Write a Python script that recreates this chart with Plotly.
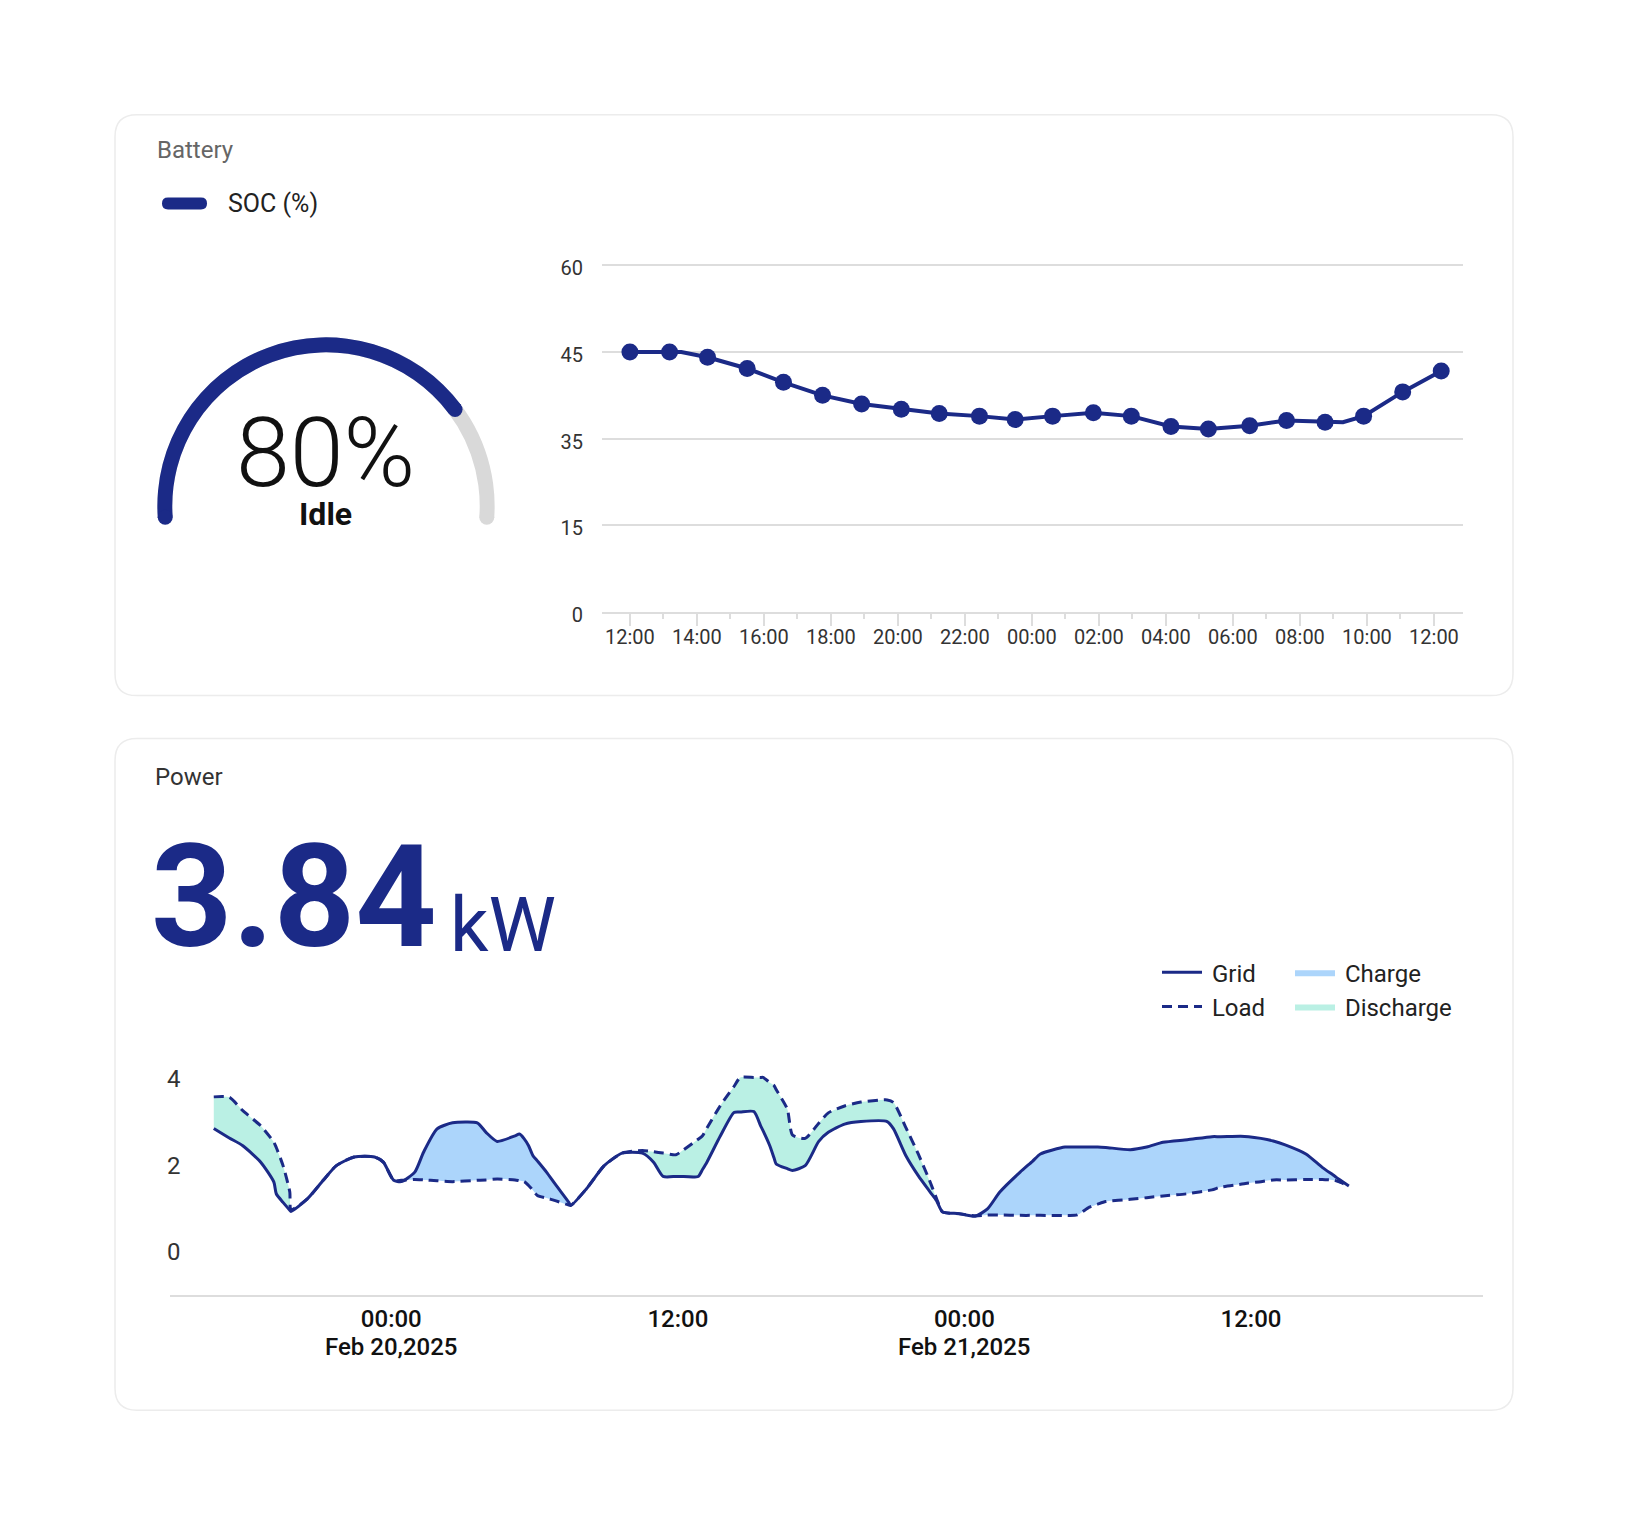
import numpy as np
import plotly.graph_objects as go

# layout is planned on a 1626x1520 grid; the page is photographed 12px taller
# and squeezed back, so the figure is made 1532 tall with fractional positions
W, H = 1626, 1520
FIG_H = 1532
NAVY = "#1b2a87"
TRACK = "#d9d9d9"
CHARGE = "#acd5fb"
DISCHARGE = "#baf0e4"
RULE = "#dddddd"
FONT = "Roboto, 'Noto Sans', sans-serif"

# ---------------- battery card data ----------------
soc_now = 80
soc_state = "Idle"
soc_ticks = [0, 15, 35, 45, 60]

soc_times = [
    "2025-02-20 12:00", "2025-02-20 13:11", "2025-02-20 14:19", "2025-02-20 15:30",
    "2025-02-20 16:35", "2025-02-20 17:45", "2025-02-20 18:55", "2025-02-20 20:06",
    "2025-02-20 21:14", "2025-02-20 22:26", "2025-02-20 23:30", "2025-02-21 00:37",
    "2025-02-21 01:50", "2025-02-21 02:58", "2025-02-21 04:09", "2025-02-21 05:16",
    "2025-02-21 06:30", "2025-02-21 07:36", "2025-02-21 08:45", "2025-02-21 09:54",
    "2025-02-21 11:04", "2025-02-21 12:13",
]
soc_values = [
    45.0, 45.0, 44.4, 43.1, 41.5, 40.0, 39.0, 38.4, 37.9, 37.6, 37.2,
    37.6, 38.0, 37.6, 36.4, 36.1, 36.5, 37.1, 36.9, 37.6, 40.4, 42.8,
]
# extra bends of the line between markers
soc_knot_times = ["2025-02-20 13:32", "2025-02-21 09:17"]
soc_knot_values = [45.0, 36.9]

# ---------------- power card data ----------------
power_now = 3.84
power_ticks = [0, 2, 4]
power_times = [
    "2025-02-19 16:34", "2025-02-19 17:13", "2025-02-19 17:47", "2025-02-19 18:32",
    "2025-02-19 19:05", "2025-02-19 19:11", "2025-02-19 19:28", "2025-02-19 19:45",
    "2025-02-19 19:48", "2025-02-19 20:29", "2025-02-19 21:09", "2025-02-19 21:42",
    "2025-02-19 22:27", "2025-02-19 23:18", "2025-02-19 23:40", "2025-02-20 00:06",
    "2025-02-20 00:25", "2025-02-20 00:59", "2025-02-20 01:21", "2025-02-20 01:55",
    "2025-02-20 02:34", "2025-02-20 03:36", "2025-02-20 03:58", "2025-02-20 04:26",
    "2025-02-20 05:11", "2025-02-20 05:22", "2025-02-20 05:34", "2025-02-20 05:45",
    "2025-02-20 05:56", "2025-02-20 06:07", "2025-02-20 06:30", "2025-02-20 06:52",
    "2025-02-20 07:26", "2025-02-20 07:31", "2025-02-20 08:10", "2025-02-20 08:55",
    "2025-02-20 09:40", "2025-02-20 10:31", "2025-02-20 10:59", "2025-02-20 11:23",
    "2025-02-20 11:55", "2025-02-20 12:06", "2025-02-20 12:51", "2025-02-20 13:02",
    "2025-02-20 13:13", "2025-02-20 13:47", "2025-02-20 14:21", "2025-02-20 14:37",
    "2025-02-20 15:11", "2025-02-20 15:28", "2025-02-20 15:34", "2025-02-20 15:51",
    "2025-02-20 16:02", "2025-02-20 16:07", "2025-02-20 16:35", "2025-02-20 16:48",
    "2025-02-20 17:20", "2025-02-20 17:54", "2025-02-20 18:18", "2025-02-20 18:59",
    "2025-02-20 19:40", "2025-02-20 20:46", "2025-02-20 21:02", "2025-02-20 21:33",
    "2025-02-20 22:04", "2025-02-20 22:34", "2025-02-20 22:50", "2025-02-20 23:05",
    "2025-02-20 23:46", "2025-02-21 00:27", "2025-02-21 00:58", "2025-02-21 01:29",
    "2025-02-21 02:20", "2025-02-21 02:51", "2025-02-21 03:11", "2025-02-21 04:13",
    "2025-02-21 04:43", "2025-02-21 05:14", "2025-02-21 05:35", "2025-02-21 05:55",
    "2025-02-21 06:57", "2025-02-21 07:38", "2025-02-21 08:19", "2025-02-21 09:20",
    "2025-02-21 10:22", "2025-02-21 10:42", "2025-02-21 11:34", "2025-02-21 11:54",
    "2025-02-21 12:25", "2025-02-21 12:56", "2025-02-21 13:26", "2025-02-21 14:18",
    "2025-02-21 14:59", "2025-02-21 15:30", "2025-02-21 15:40", "2025-02-21 16:06",
]
grid_kw = [
    2.85, 2.63, 2.45, 2.07, 1.61, 1.34, 1.14, 0.96, 0.93, 1.22, 1.65, 1.99,
    2.19, 2.19, 2.07, 1.65, 1.62, 1.84, 2.30, 2.84, 2.98, 2.98, 2.76, 2.55,
    2.68, 2.72, 2.61, 2.45, 2.22, 2.10, 1.84, 1.56, 1.14, 1.07, 1.45, 1.99,
    2.28, 2.28, 2.07, 1.74, 1.74, 1.74, 1.74, 1.90, 2.07, 2.68, 3.22, 3.23,
    3.24, 2.91, 2.80, 2.45, 2.16, 2.03, 1.92, 1.88, 1.99, 2.55, 2.76, 2.95,
    3.01, 3.01, 2.84, 2.22, 1.76, 1.38, 1.18, 0.92, 0.88, 0.82, 0.99, 1.38,
    1.84, 2.09, 2.26, 2.42, 2.42, 2.42, 2.42, 2.41, 2.36, 2.42, 2.53, 2.59,
    2.66, 2.66, 2.67, 2.66, 2.62, 2.56, 2.47, 2.26, 1.95, 1.75, 1.68, 1.52,
]
load_kw = [
    3.58, 3.57, 3.26, 2.91, 2.53, 2.41, 1.99, 1.38, 0.97, 1.22, 1.65, 1.99,
    2.19, 2.19, 2.07, 1.65, 1.65, 1.67, 1.66, 1.64, 1.62, 1.65, 1.66, 1.68,
    1.66, 1.64, 1.62, 1.53, 1.42, 1.30, 1.24, 1.18, 1.08, 1.07, 1.45, 1.99,
    2.28, 2.34, 2.31, 2.28, 2.24, 2.30, 2.60, 2.68, 2.86, 3.38, 3.82, 4.03,
    4.03, 4.03, 4.03, 3.91, 3.84, 3.75, 3.30, 2.70, 2.62, 2.97, 3.21, 3.37,
    3.46, 3.51, 3.45, 2.87, 2.26, 1.61, 1.23, 0.92, 0.88, 0.83, 0.85, 0.85,
    0.84, 0.84, 0.84, 0.84, 0.85, 1.03, 1.10, 1.16, 1.21, 1.25, 1.29, 1.34,
    1.43, 1.49, 1.56, 1.59, 1.62, 1.66, 1.66, 1.67, 1.67, 1.65, 1.62, 1.52,
]
day_ticks = ["2025-02-20 00:00", "2025-02-20 12:00", "2025-02-21 00:00", "2025-02-21 12:00"]
day_ticktext = ["00:00", "12:00", "00:00", "12:00"]
day_dates = ["2025-02-20 00:00", "2025-02-21 00:00"]
day_datetext = ["Feb 20,2025", "Feb 21,2025"]


def fx(px):
    return px / W


def fy(py):
    return 1 - py / H


def rounded_rect(x0, y0, x1, y1, r):
    return (
        f"M {fx(x0 + r)},{fy(y0)} L {fx(x1 - r)},{fy(y0)} "
        f"Q {fx(x1)},{fy(y0)} {fx(x1)},{fy(y0 + r)} L {fx(x1)},{fy(y1 - r)} "
        f"Q {fx(x1)},{fy(y1)} {fx(x1 - r)},{fy(y1)} L {fx(x0 + r)},{fy(y1)} "
        f"Q {fx(x0)},{fy(y1)} {fx(x0)},{fy(y1 - r)} L {fx(x0)},{fy(y0 + r)} "
        f"Q {fx(x0)},{fy(y0)} {fx(x0 + r)},{fy(y0)} Z"
    )


# SOC axis is evenly spaced between its tick values
soc_idx = np.arange(len(soc_ticks))
line_t = soc_times + soc_knot_times
line_v = soc_values + soc_knot_values
order = np.argsort(line_t)
line_t = [line_t[i] for i in order]
line_v = [line_v[i] for i in order]

fig = go.Figure()

# ---------------- battery line ----------------
fig.add_trace(go.Scatter(
    x=line_t, y=np.interp(line_v, soc_ticks, soc_idx),
    mode="lines", line=dict(color=NAVY, width=4),
    showlegend=False, hoverinfo="skip", xaxis="x", yaxis="y"
))
fig.add_trace(go.Scatter(
    x=soc_times, y=np.interp(soc_values, soc_ticks, soc_idx),
    mode="markers", marker=dict(color=NAVY, size=17),
    customdata=soc_values, hovertemplate="%{customdata}%<extra></extra>",
    showlegend=False, xaxis="x", yaxis="y"
))

# ---------------- gauge ----------------
# track runs a little past a half circle; the 0-100 scale spans 184 degrees of it
ARC_START, ARC_SPAN, SCALE_SPAN = 184, 188, 184
value_span = SCALE_SPAN * soc_now / 100
fig.add_trace(go.Barpolar(
    r=[0.088], base=[0.906], theta=[ARC_START - ARC_SPAN / 2], width=[ARC_SPAN],
    marker=dict(color=TRACK, line=dict(width=0)), subplot="polar",
    showlegend=False, hoverinfo="skip"
))
fig.add_trace(go.Barpolar(
    r=[0.088], base=[0.906], theta=[ARC_START - value_span / 2], width=[value_span],
    marker=dict(color=NAVY, line=dict(width=0)), subplot="polar",
    showlegend=False, hoverinfo="skip"
))
fig.add_trace(go.Scatterpolar(
    r=[0.95, 0.95, 0.95],
    theta=[ARC_START - ARC_SPAN, ARC_START, ARC_START - value_span],
    mode="markers", marker=dict(size=15, color=[TRACK, NAVY, NAVY]),
    subplot="polar", showlegend=False, hoverinfo="skip"
))

# ---------------- power chart ----------------
grid_arr = np.array(grid_kw)
load_arr = np.array(load_kw)
SMOOTH = dict(shape="spline", smoothing=0.6)
fig.add_trace(go.Scatter(
    x=power_times, y=load_arr, mode="lines", line=dict(width=0, **SMOOTH),
    showlegend=False, hoverinfo="skip", xaxis="x2", yaxis="y2"
))
fig.add_trace(go.Scatter(
    x=power_times, y=np.maximum(grid_arr, load_arr), mode="lines",
    line=dict(width=0, **SMOOTH), fill="tonexty", fillcolor=CHARGE,
    name="\u2009Charge", legend="legend2",
    hoverinfo="skip", xaxis="x2", yaxis="y2"
))
fig.add_trace(go.Scatter(
    x=power_times, y=grid_arr, mode="lines", line=dict(width=0, **SMOOTH),
    showlegend=False, hoverinfo="skip", xaxis="x2", yaxis="y2"
))
fig.add_trace(go.Scatter(
    x=power_times, y=np.maximum(grid_arr, load_arr), mode="lines",
    line=dict(width=0, **SMOOTH), fill="tonexty", fillcolor=DISCHARGE,
    name="\u2009Discharge", legend="legend2",
    hoverinfo="skip", xaxis="x2", yaxis="y2"
))
fig.add_trace(go.Scatter(
    x=power_times, y=load_arr, mode="lines", name="\u2009Load", legendrank=2,
    line=dict(color=NAVY, width=3, dash="10px,6px", **SMOOTH), xaxis="x2", yaxis="y2"
))
fig.add_trace(go.Scatter(
    x=power_times, y=grid_arr, mode="lines", name="\u2009Grid", legendrank=1,
    line=dict(color=NAVY, width=3, **SMOOTH), xaxis="x2", yaxis="y2"
))

# ---------------- cards & text ----------------
shapes = [
    dict(type="path", path=rounded_rect(115, 115, 1513, 697, 22), xref="paper", yref="paper",
         fillcolor="white", line=dict(color="#ececec", width=1.5), layer="below"),
    dict(type="path", path=rounded_rect(115, 740, 1513, 1413, 22), xref="paper", yref="paper",
         fillcolor="white", line=dict(color="#ececec", width=1.5), layer="below"),
    dict(type="path", path=rounded_rect(162, 198, 207, 210, 6), xref="paper", yref="paper",
         fillcolor=NAVY, line=dict(width=0)),
]


def label(text, x, y, size, color="#222", anchor="left", weight=400):
    return dict(text=text, x=fx(x), y=fy(y), xref="paper", yref="paper",
                xanchor=anchor, yanchor="middle", showarrow=False,
                font=dict(family=FONT, size=size, color=color, weight=weight))


annotations = [
    label("Battery", 155, 150, 24, "#666"),
    label("SOC (%)", 226, 204, 25, "#222"),
    label(f"{soc_now}%", 325, 454, 97, "#111", "center", 300),
    label(soc_state, 325, 515, 32, "#111", "center", 700),
    label("Power", 153, 779, 24, "#333"),
    label(f"{power_now:.2f}", 149, 899, 142, NAVY, "left", 700),
    label("kW", 448, 927, 76, NAVY),
]
for d, t in zip(day_dates, day_datetext):
    annotations.append(dict(text=t, x=d, y=fy(1350), xref="x2", yref="paper",
                            xanchor="center", yanchor="middle", showarrow=False,
                            font=dict(family=FONT, size=24, color="#111", weight=500)))

legend_style = dict(xanchor="left", yanchor="top", bgcolor="rgba(0,0,0,0)",
                    font=dict(family=FONT, size=24, color="#222"), itemwidth=40,
                    tracegroupgap=0, traceorder="normal")

fig.update_layout(
    width=W, height=FIG_H,
    margin=dict(l=0, r=0, t=0, b=0),
    paper_bgcolor="white", plot_bgcolor="rgba(0,0,0,0)",
    font=dict(family=FONT),
    shapes=shapes, annotations=annotations,
    showlegend=True,
    legend=dict(x=fx(1157), y=fy(952), **legend_style),
    legend2=dict(x=fx(1290), y=fy(952), **legend_style),
    xaxis=dict(
        domain=[fx(602), fx(1463)],
        range=["2025-02-20 11:10", "2025-02-21 12:52"],
        type="date", tickformat="%H:%M", dtick=7200000, tick0="2025-02-20 00:00",
        ticks="outside", ticklen=12, tickwidth=2, tickcolor=RULE,
        minor=dict(dtick=3600000, ticks="outside", ticklen=5, tickwidth=2,
                   tickcolor=RULE, showgrid=False),
        showline=True, linecolor=RULE, linewidth=2, showgrid=False, zeroline=False,
        tickfont=dict(size=20, color="#333"), ticklabelstandoff=-6, anchor="y",
    ),
    yaxis=dict(
        domain=[fy(613), fy(250)],
        range=[0, (613 - 250) / 86.75],
        tickvals=soc_idx, ticktext=[str(v) for v in soc_ticks],
        showgrid=True, gridcolor=RULE, gridwidth=2, zeroline=False,
        tickfont=dict(size=20, color="#333"), ticklabelstandoff=18,
        ticklabelshift=3, anchor="x",
    ),
    xaxis2=dict(
        domain=[fx(170), fx(1483)],
        range=["2025-02-19 14:44", "2025-02-21 21:43"],
        type="date", tickvals=day_ticks, ticktext=day_ticktext,
        showline=True, linecolor=RULE, linewidth=2, showgrid=False, zeroline=False,
        tickfont=dict(size=24, color="#111", weight=500), ticklabelstandoff=1,
        anchor="y2",
    ),
    yaxis2=dict(
        domain=[fy(1297.5), fy(1030)],
        range=[-1, -1 + (1297.5 - 1030) / 43.33],
        tickvals=power_ticks, showgrid=False, zeroline=False, showline=False,
        ticklabelposition="inside", ticklabelstandoff=-6,
        tickfont=dict(size=24, color="#333"), anchor="x2",
    ),
    polar=dict(
        domain=dict(x=[fx(156), fx(496)], y=[fy(677), fy(337)]),
        bgcolor="rgba(0,0,0,0)", hole=0,
        radialaxis=dict(visible=False, range=[0, 1]),
        angularaxis=dict(visible=False, rotation=0, direction="counterclockwise"),
    ),
)

fig.write_html(
    "out.html", config={"displayModeBar": False},
    post_script=(
        "document.body.style.margin='0';"
        "document.body.style.overflow='hidden';"
        "document.documentElement.style.overflow='hidden';"
    ),
)
